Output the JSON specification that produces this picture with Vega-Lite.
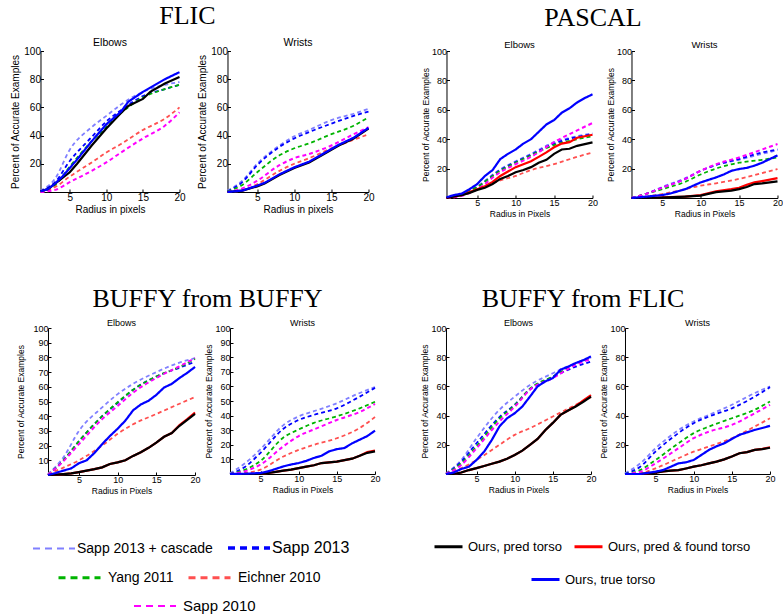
{
"$schema": "https://vega.github.io/schema/vega-lite/v6.json",
"padding": {"left": 10, "top": 3, "right": 0, "bottom": 0},
"background": "white",
"config": {
 "view": {"stroke": null},
 "title": {"font": "Liberation Sans", "fontWeight": "normal", "color": "#000000", "fontSize": 10, "offset": 0, "frame": "group"},
 "axis": {"grid": false, "domainColor": "#000000", "domainWidth": 1, "tickColor": "#000000", "tickSize": -3, "labelColor": "#000000", "titleColor": "#000000", "labelFont": "Liberation Sans", "titleFont": "Liberation Sans", "titleFontWeight": "normal", "labelFlush": false, "labelOverlap": false, "labelPadding": 3},
 "axisX": {"titlePadding": 2},
 "axisY": {"titlePadding": 3},
 "legend": {"labelFont": "Liberation Sans", "labelColor": "#000000", "padding": 0, "symbolType": "stroke", "labelLimit": 0}
},
"datasets": {
"fe": [
{"s":"casc","x":1,"y":1},{"s":"casc","x":3,"y":9.5},{"s":"casc","x":5,"y":30},{"s":"casc","x":8,"y":46},{"s":"casc","x":10,"y":54},{"s":"casc","x":12,"y":62},{"s":"casc","x":15,"y":71},{"s":"casc","x":18,"y":76},{"s":"casc","x":20,"y":78},
{"s":"s13","x":1,"y":0.5},{"s":"s13","x":3,"y":7},{"s":"s13","x":5,"y":22},{"s":"s13","x":8,"y":39},{"s":"s13","x":10,"y":50},{"s":"s13","x":12,"y":58},{"s":"s13","x":15,"y":68},{"s":"s13","x":18,"y":73},{"s":"s13","x":20,"y":76},
{"s":"yang","x":1,"y":0.5},{"s":"yang","x":3,"y":5},{"s":"yang","x":5,"y":18},{"s":"yang","x":8,"y":36},{"s":"yang","x":10,"y":46},{"s":"yang","x":12,"y":56},{"s":"yang","x":15,"y":67},{"s":"yang","x":18,"y":73},{"s":"yang","x":20,"y":76},
{"s":"eich","x":1,"y":0},{"s":"eich","x":3,"y":3.5},{"s":"eich","x":5,"y":11},{"s":"eich","x":8,"y":21},{"s":"eich","x":10,"y":28},{"s":"eich","x":12,"y":34},{"s":"eich","x":15,"y":44},{"s":"eich","x":18,"y":52},{"s":"eich","x":20,"y":60},
{"s":"s10","x":1,"y":0},{"s":"s10","x":3,"y":1.5},{"s":"s10","x":5,"y":7},{"s":"s10","x":8,"y":15},{"s":"s10","x":10,"y":21},{"s":"s10","x":12,"y":28},{"s":"s10","x":15,"y":38},{"s":"s10","x":18,"y":47},{"s":"s10","x":20,"y":56.5},
{"s":"pred","x":1,"y":0.5},{"s":"pred","x":2,"y":2},{"s":"pred","x":3,"y":6},{"s":"pred","x":4,"y":10},{"s":"pred","x":5,"y":14},{"s":"pred","x":6,"y":20},{"s":"pred","x":8,"y":33},{"s":"pred","x":10,"y":45},{"s":"pred","x":12,"y":56},{"s":"pred","x":13,"y":61},{"s":"pred","x":15,"y":66},{"s":"pred","x":16,"y":71},{"s":"pred","x":18,"y":77},{"s":"pred","x":20,"y":81.5},
{"s":"gt","x":1,"y":0.5},{"s":"gt","x":2,"y":2},{"s":"gt","x":3,"y":6},{"s":"gt","x":4,"y":11},{"s":"gt","x":5,"y":17},{"s":"gt","x":6,"y":23},{"s":"gt","x":8,"y":36},{"s":"gt","x":10,"y":48},{"s":"gt","x":12,"y":57},{"s":"gt","x":13,"y":64},{"s":"gt","x":15,"y":71},{"s":"gt","x":16,"y":74},{"s":"gt","x":18,"y":80},{"s":"gt","x":20,"y":85}
],
"fw": [
{"s":"casc","x":1,"y":1},{"s":"casc","x":3,"y":8},{"s":"casc","x":5,"y":20},{"s":"casc","x":8,"y":33},{"s":"casc","x":10,"y":39.5},{"s":"casc","x":12,"y":44},{"s":"casc","x":15,"y":51},{"s":"casc","x":18,"y":55.5},{"s":"casc","x":20,"y":59},
{"s":"s13","x":1,"y":0.5},{"s":"s13","x":3,"y":7},{"s":"s13","x":5,"y":19},{"s":"s13","x":8,"y":32},{"s":"s13","x":10,"y":38},{"s":"s13","x":12,"y":42.5},{"s":"s13","x":15,"y":48.5},{"s":"s13","x":18,"y":54},{"s":"s13","x":20,"y":57},
{"s":"yang","x":1,"y":0.5},{"s":"yang","x":3,"y":5},{"s":"yang","x":5,"y":14},{"s":"yang","x":8,"y":26},{"s":"yang","x":10,"y":31},{"s":"yang","x":12,"y":34.5},{"s":"yang","x":15,"y":41},{"s":"yang","x":18,"y":47},{"s":"yang","x":20,"y":53},
{"s":"eich","x":1,"y":0},{"s":"eich","x":3,"y":1},{"s":"eich","x":5,"y":5.5},{"s":"eich","x":8,"y":15},{"s":"eich","x":10,"y":20},{"s":"eich","x":12,"y":24},{"s":"eich","x":15,"y":31},{"s":"eich","x":18,"y":37},{"s":"eich","x":20,"y":41},
{"s":"s10","x":1,"y":0},{"s":"s10","x":3,"y":2.5},{"s":"s10","x":5,"y":8},{"s":"s10","x":8,"y":19},{"s":"s10","x":10,"y":24},{"s":"s10","x":12,"y":27},{"s":"s10","x":15,"y":33},{"s":"s10","x":18,"y":41},{"s":"s10","x":20,"y":46},
{"s":"pred","x":1,"y":0},{"s":"pred","x":3,"y":1},{"s":"pred","x":5,"y":4},{"s":"pred","x":6,"y":6},{"s":"pred","x":8,"y":12},{"s":"pred","x":10,"y":17},{"s":"pred","x":12,"y":21},{"s":"pred","x":14,"y":27},{"s":"pred","x":15,"y":30},{"s":"pred","x":16,"y":33},{"s":"pred","x":18,"y":38},{"s":"pred","x":20,"y":45},
{"s":"gt","x":1,"y":0},{"s":"gt","x":3,"y":1},{"s":"gt","x":5,"y":4.5},{"s":"gt","x":6,"y":6.5},{"s":"gt","x":8,"y":12.5},{"s":"gt","x":10,"y":17.5},{"s":"gt","x":12,"y":21.5},{"s":"gt","x":14,"y":27.5},{"s":"gt","x":15,"y":30.5},{"s":"gt","x":16,"y":33.5},{"s":"gt","x":18,"y":38.5},{"s":"gt","x":20,"y":45.5}
],
"pe": [
{"s":"casc","x":1,"y":0},{"s":"casc","x":3,"y":3},{"s":"casc","x":5,"y":8},{"s":"casc","x":8,"y":19.5},{"s":"casc","x":10,"y":25},{"s":"casc","x":12,"y":30},{"s":"casc","x":15,"y":38},{"s":"casc","x":18,"y":42},{"s":"casc","x":20,"y":44},
{"s":"s13","x":1,"y":0},{"s":"s13","x":3,"y":2.5},{"s":"s13","x":5,"y":7.5},{"s":"s13","x":8,"y":19},{"s":"s13","x":10,"y":24.5},{"s":"s13","x":12,"y":29.5},{"s":"s13","x":15,"y":37},{"s":"s13","x":18,"y":41.5},{"s":"s13","x":20,"y":43.5},
{"s":"yang","x":1,"y":0},{"s":"yang","x":3,"y":2.5},{"s":"yang","x":5,"y":7.5},{"s":"yang","x":8,"y":18.5},{"s":"yang","x":10,"y":24},{"s":"yang","x":12,"y":29},{"s":"yang","x":15,"y":36},{"s":"yang","x":18,"y":40},{"s":"yang","x":20,"y":42},
{"s":"eich","x":1,"y":0},{"s":"eich","x":3,"y":2},{"s":"eich","x":5,"y":6},{"s":"eich","x":8,"y":12},{"s":"eich","x":10,"y":15},{"s":"eich","x":12,"y":19},{"s":"eich","x":15,"y":23},{"s":"eich","x":18,"y":28},{"s":"eich","x":20,"y":31},
{"s":"s10","x":1,"y":0},{"s":"s10","x":3,"y":1.5},{"s":"s10","x":5,"y":6},{"s":"s10","x":8,"y":17.5},{"s":"s10","x":10,"y":23},{"s":"s10","x":12,"y":28},{"s":"s10","x":15,"y":38},{"s":"s10","x":18,"y":46},{"s":"s10","x":20,"y":51},
{"s":"found","x":1,"y":0},{"s":"found","x":2,"y":1},{"s":"found","x":3,"y":2},{"s":"found","x":4,"y":4},{"s":"found","x":5,"y":6},{"s":"found","x":6,"y":8},{"s":"found","x":7,"y":11},{"s":"found","x":8,"y":15},{"s":"found","x":9,"y":18},{"s":"found","x":10,"y":21},{"s":"found","x":11,"y":23},{"s":"found","x":12,"y":25},{"s":"found","x":13,"y":28},{"s":"found","x":14,"y":31},{"s":"found","x":15,"y":34.5},{"s":"found","x":16,"y":37},{"s":"found","x":17,"y":38},{"s":"found","x":18,"y":41},{"s":"found","x":20,"y":43},
{"s":"pred","x":1,"y":0},{"s":"pred","x":2,"y":1},{"s":"pred","x":3,"y":2},{"s":"pred","x":4,"y":3.5},{"s":"pred","x":5,"y":5.5},{"s":"pred","x":6,"y":7},{"s":"pred","x":7,"y":9.5},{"s":"pred","x":8,"y":13},{"s":"pred","x":9,"y":15},{"s":"pred","x":10,"y":17.5},{"s":"pred","x":11,"y":19},{"s":"pred","x":12,"y":21},{"s":"pred","x":13,"y":24},{"s":"pred","x":14,"y":26},{"s":"pred","x":15,"y":30},{"s":"pred","x":16,"y":33},{"s":"pred","x":17,"y":33.5},{"s":"pred","x":18,"y":35.5},{"s":"pred","x":20,"y":37.8},
{"s":"gt","x":1,"y":0.5},{"s":"gt","x":2,"y":2},{"s":"gt","x":3,"y":3},{"s":"gt","x":4,"y":6},{"s":"gt","x":5,"y":9.5},{"s":"gt","x":6,"y":15},{"s":"gt","x":7,"y":19},{"s":"gt","x":8,"y":26.5},{"s":"gt","x":9,"y":30},{"s":"gt","x":10,"y":33},{"s":"gt","x":11,"y":37},{"s":"gt","x":12,"y":40},{"s":"gt","x":13,"y":45},{"s":"gt","x":14,"y":50},{"s":"gt","x":15,"y":53},{"s":"gt","x":16,"y":58},{"s":"gt","x":17,"y":61},{"s":"gt","x":18,"y":65},{"s":"gt","x":19,"y":68},{"s":"gt","x":20,"y":70.5}
],
"pw": [
{"s":"casc","x":1,"y":0},{"s":"casc","x":3,"y":3},{"s":"casc","x":5,"y":7.5},{"s":"casc","x":8,"y":13.5},{"s":"casc","x":10,"y":18.5},{"s":"casc","x":12,"y":22.5},{"s":"casc","x":15,"y":26},{"s":"casc","x":18,"y":30},{"s":"casc","x":20,"y":32.5},
{"s":"s13","x":1,"y":0},{"s":"s13","x":3,"y":3},{"s":"s13","x":5,"y":7},{"s":"s13","x":8,"y":13},{"s":"s13","x":10,"y":18.5},{"s":"s13","x":12,"y":22.5},{"s":"s13","x":15,"y":26.5},{"s":"s13","x":18,"y":31},{"s":"s13","x":20,"y":33},
{"s":"yang","x":1,"y":0},{"s":"yang","x":3,"y":3},{"s":"yang","x":5,"y":6},{"s":"yang","x":8,"y":11},{"s":"yang","x":10,"y":16},{"s":"yang","x":12,"y":20},{"s":"yang","x":15,"y":24},{"s":"yang","x":18,"y":26},{"s":"yang","x":20,"y":27.6},
{"s":"eich","x":1,"y":0},{"s":"eich","x":3,"y":1},{"s":"eich","x":5,"y":2.7},{"s":"eich","x":8,"y":6},{"s":"eich","x":10,"y":8.4},{"s":"eich","x":12,"y":10},{"s":"eich","x":15,"y":13},{"s":"eich","x":18,"y":17},{"s":"eich","x":20,"y":19.7},
{"s":"s10","x":1,"y":0},{"s":"s10","x":3,"y":3},{"s":"s10","x":5,"y":7},{"s":"s10","x":8,"y":13},{"s":"s10","x":10,"y":18.5},{"s":"s10","x":12,"y":23},{"s":"s10","x":15,"y":27.6},{"s":"s10","x":18,"y":33},{"s":"s10","x":20,"y":36.7},
{"s":"found","x":1,"y":0},{"s":"found","x":3,"y":0},{"s":"found","x":5,"y":0.5},{"s":"found","x":8,"y":1},{"s":"found","x":10,"y":2},{"s":"found","x":12,"y":4.5},{"s":"found","x":14,"y":6},{"s":"found","x":15,"y":7},{"s":"found","x":16,"y":9},{"s":"found","x":17,"y":10.6},{"s":"found","x":18,"y":11.5},{"s":"found","x":20,"y":13.5},
{"s":"pred","x":1,"y":0},{"s":"pred","x":3,"y":0},{"s":"pred","x":5,"y":0.3},{"s":"pred","x":8,"y":1},{"s":"pred","x":10,"y":1.6},{"s":"pred","x":12,"y":4},{"s":"pred","x":14,"y":5},{"s":"pred","x":15,"y":6},{"s":"pred","x":16,"y":7.5},{"s":"pred","x":17,"y":9.5},{"s":"pred","x":18,"y":10},{"s":"pred","x":20,"y":11.3},
{"s":"gt","x":1,"y":0},{"s":"gt","x":3,"y":1},{"s":"gt","x":5,"y":2},{"s":"gt","x":6,"y":3},{"s":"gt","x":8,"y":6},{"s":"gt","x":10,"y":10.6},{"s":"gt","x":12,"y":14},{"s":"gt","x":13,"y":16},{"s":"gt","x":14,"y":18.5},{"s":"gt","x":15,"y":19.7},{"s":"gt","x":16,"y":20.5},{"s":"gt","x":17,"y":22},{"s":"gt","x":18,"y":24},{"s":"gt","x":20,"y":29}
],
"be": [
{"s":"casc","x":1,"y":0.7},{"s":"casc","x":3,"y":12},{"s":"casc","x":5,"y":30},{"s":"casc","x":8,"y":46},{"s":"casc","x":10,"y":55},{"s":"casc","x":12,"y":62},{"s":"casc","x":15,"y":70},{"s":"casc","x":18,"y":76.5},{"s":"casc","x":20,"y":79.5},
{"s":"s13","x":1,"y":0},{"s":"s13","x":3,"y":10},{"s":"s13","x":5,"y":23},{"s":"s13","x":8,"y":40},{"s":"s13","x":10,"y":49},{"s":"s13","x":12,"y":58},{"s":"s13","x":15,"y":67},{"s":"s13","x":18,"y":73},{"s":"s13","x":20,"y":77},
{"s":"yang","x":1,"y":0},{"s":"yang","x":3,"y":10},{"s":"yang","x":5,"y":23},{"s":"yang","x":8,"y":40},{"s":"yang","x":10,"y":49.5},{"s":"yang","x":12,"y":58},{"s":"yang","x":15,"y":67},{"s":"yang","x":18,"y":73.5},{"s":"yang","x":20,"y":79},
{"s":"eich","x":1,"y":0.7},{"s":"eich","x":3,"y":5},{"s":"eich","x":5,"y":10},{"s":"eich","x":8,"y":20},{"s":"eich","x":10,"y":28},{"s":"eich","x":12,"y":34.5},{"s":"eich","x":15,"y":41.5},{"s":"eich","x":18,"y":48.5},{"s":"eich","x":20,"y":53},
{"s":"s10","x":1,"y":0},{"s":"s10","x":3,"y":9.5},{"s":"s10","x":5,"y":21},{"s":"s10","x":8,"y":38},{"s":"s10","x":10,"y":47},{"s":"s10","x":12,"y":56},{"s":"s10","x":15,"y":66},{"s":"s10","x":18,"y":74},{"s":"s10","x":20,"y":79.5},
{"s":"found","x":1,"y":0},{"s":"found","x":2,"y":0.2},{"s":"found","x":3,"y":0.6},{"s":"found","x":4,"y":1.1},{"s":"found","x":5,"y":2},{"s":"found","x":6,"y":3},{"s":"found","x":7,"y":4},{"s":"found","x":8,"y":5.2},{"s":"found","x":9,"y":7.5},{"s":"found","x":10,"y":8.6},{"s":"found","x":11,"y":10},{"s":"found","x":12,"y":13},{"s":"found","x":13,"y":15.5},{"s":"found","x":14,"y":18.5},{"s":"found","x":15,"y":22},{"s":"found","x":16,"y":26},{"s":"found","x":17,"y":28.5},{"s":"found","x":18,"y":34},{"s":"found","x":19,"y":38},{"s":"found","x":20,"y":42.5},
{"s":"pred","x":1,"y":0},{"s":"pred","x":2,"y":0.2},{"s":"pred","x":3,"y":0.6},{"s":"pred","x":4,"y":1.1},{"s":"pred","x":5,"y":2},{"s":"pred","x":6,"y":3},{"s":"pred","x":7,"y":4},{"s":"pred","x":8,"y":5.2},{"s":"pred","x":9,"y":7.5},{"s":"pred","x":10,"y":8.6},{"s":"pred","x":11,"y":10},{"s":"pred","x":12,"y":13},{"s":"pred","x":13,"y":15.5},{"s":"pred","x":14,"y":18.5},{"s":"pred","x":15,"y":22},{"s":"pred","x":16,"y":26},{"s":"pred","x":17,"y":28.5},{"s":"pred","x":18,"y":33.5},{"s":"pred","x":19,"y":37.5},{"s":"pred","x":20,"y":41.5},
{"s":"gt","x":1,"y":0},{"s":"gt","x":2,"y":1.4},{"s":"gt","x":3,"y":3},{"s":"gt","x":4,"y":4.5},{"s":"gt","x":5,"y":8},{"s":"gt","x":6,"y":10},{"s":"gt","x":7,"y":15},{"s":"gt","x":8,"y":21},{"s":"gt","x":9,"y":26.5},{"s":"gt","x":10,"y":31.5},{"s":"gt","x":11,"y":37},{"s":"gt","x":12,"y":44},{"s":"gt","x":13,"y":48},{"s":"gt","x":14,"y":50.5},{"s":"gt","x":15,"y":54.5},{"s":"gt","x":16,"y":59.5},{"s":"gt","x":17,"y":62},{"s":"gt","x":18,"y":66},{"s":"gt","x":19,"y":69.5},{"s":"gt","x":20,"y":73.5}
],
"bw": [
{"s":"casc","x":1,"y":0.5},{"s":"casc","x":3,"y":7.5},{"s":"casc","x":5,"y":17},{"s":"casc","x":8,"y":33.5},{"s":"casc","x":10,"y":39.5},{"s":"casc","x":12,"y":43},{"s":"casc","x":15,"y":48.5},{"s":"casc","x":18,"y":55.5},{"s":"casc","x":20,"y":59.5},
{"s":"s13","x":1,"y":0},{"s":"s13","x":3,"y":5},{"s":"s13","x":5,"y":14.5},{"s":"s13","x":8,"y":31},{"s":"s13","x":10,"y":37},{"s":"s13","x":12,"y":40.5},{"s":"s13","x":15,"y":45},{"s":"s13","x":18,"y":53},{"s":"s13","x":20,"y":59},
{"s":"yang","x":1,"y":0},{"s":"yang","x":3,"y":3},{"s":"yang","x":5,"y":9},{"s":"yang","x":8,"y":25},{"s":"yang","x":10,"y":30.5},{"s":"yang","x":12,"y":35},{"s":"yang","x":15,"y":39.5},{"s":"yang","x":18,"y":45},{"s":"yang","x":20,"y":49.5},
{"s":"eich","x":1,"y":0},{"s":"eich","x":3,"y":0.7},{"s":"eich","x":5,"y":3},{"s":"eich","x":8,"y":12},{"s":"eich","x":10,"y":16.5},{"s":"eich","x":12,"y":20},{"s":"eich","x":15,"y":24.5},{"s":"eich","x":18,"y":31.5},{"s":"eich","x":20,"y":39},
{"s":"s10","x":1,"y":0},{"s":"s10","x":3,"y":2},{"s":"s10","x":5,"y":6.5},{"s":"s10","x":8,"y":19},{"s":"s10","x":10,"y":26},{"s":"s10","x":12,"y":30.5},{"s":"s10","x":15,"y":37},{"s":"s10","x":18,"y":42.5},{"s":"s10","x":20,"y":48},
{"s":"found","x":1,"y":0},{"s":"found","x":5,"y":0},{"s":"found","x":6,"y":0.7},{"s":"found","x":7,"y":1.5},{"s":"found","x":8,"y":2.3},{"s":"found","x":9,"y":3},{"s":"found","x":10,"y":4},{"s":"found","x":11,"y":5},{"s":"found","x":12,"y":6},{"s":"found","x":13,"y":7.5},{"s":"found","x":14,"y":8},{"s":"found","x":15,"y":8.5},{"s":"found","x":16,"y":9.5},{"s":"found","x":17,"y":10.5},{"s":"found","x":18,"y":12.5},{"s":"found","x":19,"y":15},{"s":"found","x":20,"y":16},
{"s":"pred","x":1,"y":0},{"s":"pred","x":5,"y":0},{"s":"pred","x":6,"y":0.7},{"s":"pred","x":7,"y":1.5},{"s":"pred","x":8,"y":2.3},{"s":"pred","x":9,"y":3},{"s":"pred","x":10,"y":4},{"s":"pred","x":11,"y":5},{"s":"pred","x":12,"y":6},{"s":"pred","x":13,"y":7.5},{"s":"pred","x":14,"y":8},{"s":"pred","x":15,"y":8.5},{"s":"pred","x":16,"y":9.5},{"s":"pred","x":17,"y":10.5},{"s":"pred","x":18,"y":12.5},{"s":"pred","x":19,"y":14.5},{"s":"pred","x":20,"y":15.5},
{"s":"gt","x":1,"y":0},{"s":"gt","x":3,"y":0.2},{"s":"gt","x":5,"y":0.7},{"s":"gt","x":6,"y":1.8},{"s":"gt","x":7,"y":3.5},{"s":"gt","x":8,"y":5.2},{"s":"gt","x":9,"y":6.5},{"s":"gt","x":10,"y":7.5},{"s":"gt","x":11,"y":9},{"s":"gt","x":12,"y":11},{"s":"gt","x":13,"y":12.5},{"s":"gt","x":14,"y":15.5},{"s":"gt","x":15,"y":17},{"s":"gt","x":16,"y":17.8},{"s":"gt","x":17,"y":21},{"s":"gt","x":18,"y":23.5},{"s":"gt","x":19,"y":26},{"s":"gt","x":20,"y":29.7}
],
"ce": [
{"s":"casc","x":1,"y":0.5},{"s":"casc","x":3,"y":9.6},{"s":"casc","x":5,"y":24.5},{"s":"casc","x":8,"y":44},{"s":"casc","x":10,"y":53},{"s":"casc","x":12,"y":61},{"s":"casc","x":15,"y":69},{"s":"casc","x":18,"y":76},{"s":"casc","x":20,"y":79.4},
{"s":"s13","x":1,"y":0},{"s":"s13","x":3,"y":8.5},{"s":"s13","x":5,"y":21},{"s":"s13","x":8,"y":39},{"s":"s13","x":10,"y":47.5},{"s":"s13","x":12,"y":58},{"s":"s13","x":15,"y":66.5},{"s":"s13","x":18,"y":73.5},{"s":"s13","x":20,"y":77},
{"s":"yang","x":1,"y":0},{"s":"yang","x":3,"y":7.3},{"s":"yang","x":5,"y":19},{"s":"yang","x":8,"y":38},{"s":"yang","x":10,"y":47},{"s":"yang","x":12,"y":58.5},{"s":"yang","x":15,"y":66.8},{"s":"yang","x":18,"y":75.5},{"s":"yang","x":20,"y":79.4},
{"s":"eich","x":1,"y":0.5},{"s":"eich","x":3,"y":4},{"s":"eich","x":5,"y":9.6},{"s":"eich","x":8,"y":20},{"s":"eich","x":10,"y":26.8},{"s":"eich","x":12,"y":31.4},{"s":"eich","x":15,"y":39.4},{"s":"eich","x":18,"y":47.4},{"s":"eich","x":20,"y":52.6},
{"s":"s10","x":1,"y":0},{"s":"s10","x":3,"y":6.2},{"s":"s10","x":5,"y":17.6},{"s":"s10","x":8,"y":36},{"s":"s10","x":10,"y":46},{"s":"s10","x":12,"y":57.7},{"s":"s10","x":15,"y":65.7},{"s":"s10","x":18,"y":74.8},{"s":"s10","x":20,"y":78.7},
{"s":"found","x":1,"y":0},{"s":"found","x":2,"y":0},{"s":"found","x":3,"y":1},{"s":"found","x":4,"y":2.7},{"s":"found","x":5,"y":4},{"s":"found","x":6,"y":5.5},{"s":"found","x":7,"y":7},{"s":"found","x":8,"y":8.5},{"s":"found","x":9,"y":10.5},{"s":"found","x":10,"y":13},{"s":"found","x":11,"y":16},{"s":"found","x":12,"y":20},{"s":"found","x":13,"y":24},{"s":"found","x":14,"y":30},{"s":"found","x":15,"y":35},{"s":"found","x":16,"y":40.5},{"s":"found","x":17,"y":43.5},{"s":"found","x":18,"y":46.5},{"s":"found","x":19,"y":50.5},{"s":"found","x":20,"y":54},
{"s":"pred","x":1,"y":0},{"s":"pred","x":2,"y":0},{"s":"pred","x":3,"y":1},{"s":"pred","x":4,"y":2.7},{"s":"pred","x":5,"y":4},{"s":"pred","x":6,"y":5.5},{"s":"pred","x":7,"y":7},{"s":"pred","x":8,"y":8.5},{"s":"pred","x":9,"y":10.5},{"s":"pred","x":10,"y":13},{"s":"pred","x":11,"y":16},{"s":"pred","x":12,"y":20},{"s":"pred","x":13,"y":24},{"s":"pred","x":14,"y":30},{"s":"pred","x":15,"y":35},{"s":"pred","x":16,"y":40.5},{"s":"pred","x":17,"y":43.5},{"s":"pred","x":18,"y":46.2},{"s":"pred","x":19,"y":49.5},{"s":"pred","x":20,"y":53},
{"s":"gt","x":1,"y":0},{"s":"gt","x":2,"y":1},{"s":"gt","x":3,"y":3.4},{"s":"gt","x":4,"y":5},{"s":"gt","x":5,"y":9.6},{"s":"gt","x":6,"y":15.3},{"s":"gt","x":7,"y":23.3},{"s":"gt","x":8,"y":32.5},{"s":"gt","x":9,"y":38.2},{"s":"gt","x":10,"y":41.6},{"s":"gt","x":11,"y":46.2},{"s":"gt","x":12,"y":53},{"s":"gt","x":13,"y":60},{"s":"gt","x":14,"y":63.4},{"s":"gt","x":15,"y":65.7},{"s":"gt","x":16,"y":71.4},{"s":"gt","x":17,"y":73.5},{"s":"gt","x":18,"y":76},{"s":"gt","x":19,"y":78},{"s":"gt","x":20,"y":80.5}
],
"cw": [
{"s":"casc","x":1,"y":0.5},{"s":"casc","x":3,"y":7.3},{"s":"casc","x":5,"y":17.6},{"s":"casc","x":8,"y":30},{"s":"casc","x":10,"y":36},{"s":"casc","x":12,"y":40.5},{"s":"casc","x":15,"y":47.4},{"s":"casc","x":18,"y":55.4},{"s":"casc","x":20,"y":60},
{"s":"s13","x":1,"y":0},{"s":"s13","x":3,"y":5},{"s":"s13","x":5,"y":15.3},{"s":"s13","x":8,"y":28},{"s":"s13","x":10,"y":34.8},{"s":"s13","x":12,"y":39.4},{"s":"s13","x":15,"y":45},{"s":"s13","x":18,"y":53},{"s":"s13","x":20,"y":59.5},
{"s":"yang","x":1,"y":0},{"s":"yang","x":3,"y":2.7},{"s":"yang","x":5,"y":9.6},{"s":"yang","x":8,"y":21},{"s":"yang","x":10,"y":28},{"s":"yang","x":12,"y":32.5},{"s":"yang","x":15,"y":38.2},{"s":"yang","x":18,"y":44},{"s":"yang","x":20,"y":49.7},
{"s":"eich","x":1,"y":0},{"s":"eich","x":3,"y":0.5},{"s":"eich","x":5,"y":3.9},{"s":"eich","x":8,"y":10.8},{"s":"eich","x":10,"y":15.3},{"s":"eich","x":12,"y":18.8},{"s":"eich","x":15,"y":24.5},{"s":"eich","x":18,"y":32.5},{"s":"eich","x":20,"y":38.2},
{"s":"s10","x":1,"y":0},{"s":"s10","x":3,"y":1.6},{"s":"s10","x":5,"y":7.3},{"s":"s10","x":8,"y":17.6},{"s":"s10","x":10,"y":24.5},{"s":"s10","x":12,"y":29},{"s":"s10","x":15,"y":33.6},{"s":"s10","x":18,"y":41.6},{"s":"s10","x":20,"y":47.4},
{"s":"found","x":1,"y":0},{"s":"found","x":3,"y":0},{"s":"found","x":5,"y":1},{"s":"found","x":6,"y":1.8},{"s":"found","x":7,"y":2.3},{"s":"found","x":8,"y":2.7},{"s":"found","x":9,"y":3.8},{"s":"found","x":10,"y":5},{"s":"found","x":11,"y":6},{"s":"found","x":12,"y":7.3},{"s":"found","x":13,"y":8.5},{"s":"found","x":14,"y":10},{"s":"found","x":15,"y":12},{"s":"found","x":16,"y":14.2},{"s":"found","x":17,"y":15},{"s":"found","x":18,"y":16.5},{"s":"found","x":19,"y":17.2},{"s":"found","x":20,"y":18.3},
{"s":"pred","x":1,"y":0},{"s":"pred","x":3,"y":0},{"s":"pred","x":5,"y":1},{"s":"pred","x":6,"y":1.8},{"s":"pred","x":7,"y":2.3},{"s":"pred","x":8,"y":2.7},{"s":"pred","x":9,"y":3.8},{"s":"pred","x":10,"y":5},{"s":"pred","x":11,"y":6},{"s":"pred","x":12,"y":7.3},{"s":"pred","x":13,"y":8.5},{"s":"pred","x":14,"y":10},{"s":"pred","x":15,"y":12},{"s":"pred","x":16,"y":14.2},{"s":"pred","x":17,"y":15},{"s":"pred","x":18,"y":16.5},{"s":"pred","x":19,"y":17},{"s":"pred","x":20,"y":18},
{"s":"gt","x":1,"y":0},{"s":"gt","x":3,"y":0},{"s":"gt","x":4,"y":0.8},{"s":"gt","x":5,"y":1.6},{"s":"gt","x":6,"y":2.7},{"s":"gt","x":7,"y":5},{"s":"gt","x":8,"y":7.3},{"s":"gt","x":9,"y":8},{"s":"gt","x":10,"y":9.6},{"s":"gt","x":11,"y":13},{"s":"gt","x":12,"y":16.5},{"s":"gt","x":13,"y":19},{"s":"gt","x":14,"y":21},{"s":"gt","x":15,"y":24},{"s":"gt","x":16,"y":26.8},{"s":"gt","x":17,"y":28.5},{"s":"gt","x":18,"y":30.2},{"s":"gt","x":19,"y":31.5},{"s":"gt","x":20,"y":33}
]
},
"vconcat": [
{"hconcat": [
 {"title": {"text": "FLIC", "font": "Liberation Serif", "fontSize": 26, "anchor": "middle", "frame": "bounds", "offset": 9, "dx": -5},
  "spacing": 12,
  "hconcat": [
  {"title": {"text": "Elbows", "fontSize": 10.5, "offset": -2.5}, "width": 139, "height": 141, "data": {"name": "fe"},
   "encoding": {
    "x": {"field": "x", "type": "quantitative", "scale": {"domain": [1, 20]}, "axis": {"title": "Radius in pixels", "values": [5, 10, 15, 20], "labelFontSize": 10, "titleFontSize": 10}},
    "y": {"field": "y", "type": "quantitative", "scale": {"domain": [0, 100]}, "axis": {"title": "Percent of Accurate Examples", "values": [20, 40, 60, 80, 100], "labelFontSize": 10, "titleFontSize": 10}}},
   "layer": [
    {"transform": [{"filter": {"field": "s", "oneOf": ["casc", "s13"]}}], "mark": {"type": "line", "strokeDash": [4, 3], "strokeWidth": 1.8, "interpolate": "monotone"},
     "encoding": {"color": {"field": "s", "type": "nominal", "scale": {"domain": ["casc", "s13"], "range": ["#8080ff", "#0000ff"]},
       "legend": {"title": null, "orient": "none", "legendX": 6, "legendY": 489, "direction": "horizontal", "symbolType": "stroke", "symbolSize": 1764, "symbolStrokeWidth": 2.5, "symbolDash": [7, 5], "labelFontSize": 14, "labelOffset": 15, "columnPadding": 8, "labelExpr": "datum.label == 'casc' ? 'Sapp 2013 + cascade' : 'Sapp 2013'",
        "encode": {"labels": {"update": {"fontSize": {"signal": "datum.value == 'casc' ? 14 : 16"}}}, "symbols": {"update": {"strokeWidth": {"signal": "datum.value == 'casc' ? 2 : 3.5"}}}}}}}},
    {"transform": [{"filter": {"field": "s", "oneOf": ["yang", "eich"]}}], "mark": {"type": "line", "color": {"expr": "(datum.s || datum.value) == 'yang' ? '#00b400' : '#ff5050'"}, "strokeDash": [4, 3], "strokeWidth": 1.8, "interpolate": "monotone"},
     "encoding": {"opacity": {"field": "s", "type": "nominal", "scale": {"domain": ["yang", "eich"], "range": [1, 1]},
       "legend": {"title": null, "orient": "none", "legendX": 17, "legendY": 504, "direction": "horizontal", "symbolType": "stroke", "symbolSize": 1764, "symbolStrokeWidth": 2.8, "symbolDash": [7, 5], "labelFontSize": 14, "labelOffset": 6, "columnPadding": 8, "labelExpr": "datum.label == 'yang' ? 'Yang 2011' : 'Eichner 2010'",
        "encode": {"labels": {"update": {"fontSize": {"signal": "datum.value == 'yang' ? 14 : 16.5"}}}}}}}},
    {"transform": [{"filter": {"field": "s", "equal": "s10"}}], "mark": {"type": "line", "color": "#ff00ff", "strokeDash": [4, 3], "interpolate": "monotone"},
     "encoding": {"strokeWidth": {"field": "s", "type": "ordinal", "scale": {"domain": ["s10"], "range": [2, 2]},
       "legend": {"title": null, "orient": "none", "legendX": 93, "legendY": 533, "symbolType": "stroke", "symbolSize": 1764, "symbolDash": [7, 5], "symbolStrokeColor": "#ff00ff", "labelFontSize": 15, "labelOffset": 6, "labelExpr": "'Sapp 2010'"}}}},
    {"transform": [{"filter": {"field": "s", "oneOf": ["found", "pred"]}}], "mark": {"type": "line", "strokeWidth": 2.2},
     "encoding": {"stroke": {"field": "s", "type": "nominal", "scale": {"domain": ["pred", "found"], "range": ["#000000", "#ff0000"]},
       "legend": {"title": null, "orient": "none", "legendX": 393, "legendY": 480, "direction": "horizontal", "symbolType": "stroke", "symbolSize": 784, "symbolStrokeWidth": 3, "labelFontSize": 13, "labelOffset": 4, "columnPadding": 6, "labelExpr": "datum.label == 'pred' ? 'Ours, pred torso' : 'Ours, pred & found torso'"}}}},
    {"transform": [{"filter": {"field": "s", "equal": "gt"}}], "mark": {"type": "line", "color": "#0000ff", "strokeWidth": 2.2},
     "encoding": {"strokeDash": {"field": "s", "type": "nominal", "scale": {"domain": ["gt"], "range": [[1, 0]]},
       "legend": {"title": null, "orient": "none", "legendX": 490, "legendY": 513, "direction": "horizontal", "symbolType": "stroke", "symbolSize": 784, "symbolStrokeWidth": 3, "symbolStrokeColor": "#0000ff", "labelFontSize": 13, "labelOffset": 4, "labelExpr": "'Ours, true torso'"}}}}
   ]},
  {"title": {"text": "Wrists", "fontSize": 10.5, "offset": -2.5}, "width": 141, "height": 141, "data": {"name": "fw"},
   "encoding": {
    "x": {"field": "x", "type": "quantitative", "scale": {"domain": [1, 20]}, "axis": {"title": "Radius in pixels", "values": [5, 10, 15, 20], "labelFontSize": 10, "titleFontSize": 10}},
    "y": {"field": "y", "type": "quantitative", "scale": {"domain": [0, 100]}, "axis": {"title": "Percent of Accurate Examples", "values": [20, 40, 60, 80, 100], "labelFontSize": 10, "titleFontSize": 10}}},
   "layer": [
    {"transform": [{"filter": {"field": "s", "oneOf": ["casc", "s13"]}}], "mark": {"type": "line", "strokeDash": [4, 3], "strokeWidth": 1.8, "interpolate": "monotone"}, "encoding": {"color": {"field": "s", "type": "nominal", "scale": {"domain": ["casc", "s13"], "range": ["#8080ff", "#0000ff"]}}}},
    {"transform": [{"filter": {"field": "s", "oneOf": ["yang", "eich"]}}], "mark": {"type": "line", "color": {"expr": "(datum.s || datum.value) == 'yang' ? '#00b400' : '#ff5050'"}, "strokeDash": [4, 3], "strokeWidth": 1.8, "interpolate": "monotone"}, "encoding": {"opacity": {"field": "s", "type": "nominal", "scale": {"domain": ["yang", "eich"], "range": [1, 1]}}}},
    {"transform": [{"filter": {"field": "s", "equal": "s10"}}], "mark": {"type": "line", "color": "#ff00ff", "strokeDash": [4, 3], "interpolate": "monotone"}, "encoding": {"strokeWidth": {"field": "s", "type": "ordinal", "scale": {"domain": ["s10"], "range": [2, 2]}}}},
    {"transform": [{"filter": {"field": "s", "oneOf": ["found", "pred"]}}], "mark": {"type": "line", "strokeWidth": 2.2}, "encoding": {"stroke": {"field": "s", "type": "nominal", "scale": {"domain": ["pred", "found"], "range": ["#000000", "#ff0000"]}}}},
    {"transform": [{"filter": {"field": "s", "equal": "gt"}}], "mark": {"type": "line", "color": "#0000ff", "strokeWidth": 2.2}, "encoding": {"strokeDash": {"field": "s", "type": "nominal", "scale": {"domain": ["gt"], "range": [[1, 0]]}}}}
   ]}
 ]},
 {"title": {"text": "PASCAL", "font": "Liberation Serif", "fontSize": 26, "anchor": "middle", "frame": "bounds", "offset": 9, "dx": -9},
  "spacing": 7,
  "hconcat": [
  {"title": {"text": "Elbows", "fontSize": 9.5, "offset": -2.5}, "width": 146, "height": 147, "data": {"name": "pe"},
   "encoding": {
    "x": {"field": "x", "type": "quantitative", "scale": {"domain": [1, 20]}, "axis": {"title": "Radius in Pixels", "values": [5, 10, 15, 20], "labelFontSize": 9, "titleFontSize": 8.5}},
    "y": {"field": "y", "type": "quantitative", "scale": {"domain": [0, 100]}, "axis": {"title": "Percent of Accurate Examples", "values": [20, 40, 60, 80, 100], "labelFontSize": 9, "titleFontSize": 8.5, "titlePadding": 1}}},
   "layer": [
    {"transform": [{"filter": {"field": "s", "oneOf": ["casc", "s13"]}}], "mark": {"type": "line", "strokeDash": [4, 3], "strokeWidth": 1.8, "interpolate": "monotone"}, "encoding": {"color": {"field": "s", "type": "nominal", "scale": {"domain": ["casc", "s13"], "range": ["#8080ff", "#0000ff"]}}}},
    {"transform": [{"filter": {"field": "s", "oneOf": ["yang", "eich"]}}], "mark": {"type": "line", "color": {"expr": "(datum.s || datum.value) == 'yang' ? '#00b400' : '#ff5050'"}, "strokeDash": [4, 3], "strokeWidth": 1.8, "interpolate": "monotone"}, "encoding": {"opacity": {"field": "s", "type": "nominal", "scale": {"domain": ["yang", "eich"], "range": [1, 1]}}}},
    {"transform": [{"filter": {"field": "s", "equal": "s10"}}], "mark": {"type": "line", "color": "#ff00ff", "strokeDash": [4, 3], "interpolate": "monotone"}, "encoding": {"strokeWidth": {"field": "s", "type": "ordinal", "scale": {"domain": ["s10"], "range": [2, 2]}}}},
    {"transform": [{"filter": {"field": "s", "oneOf": ["found", "pred"]}}], "mark": {"type": "line", "strokeWidth": 2.2}, "encoding": {"stroke": {"field": "s", "type": "nominal", "scale": {"domain": ["pred", "found"], "range": ["#000000", "#ff0000"]}}}},
    {"transform": [{"filter": {"field": "s", "equal": "gt"}}], "mark": {"type": "line", "color": "#0000ff", "strokeWidth": 2.2}, "encoding": {"strokeDash": {"field": "s", "type": "nominal", "scale": {"domain": ["gt"], "range": [[1, 0]]}}}}
   ]},
  {"title": {"text": "Wrists", "fontSize": 9.5, "offset": -2.5}, "width": 146, "height": 147, "data": {"name": "pw"},
   "encoding": {
    "x": {"field": "x", "type": "quantitative", "scale": {"domain": [1, 20]}, "axis": {"title": "Radius in Pixels", "values": [5, 10, 15, 20], "labelFontSize": 9, "titleFontSize": 8.5}},
    "y": {"field": "y", "type": "quantitative", "scale": {"domain": [0, 100]}, "axis": {"title": "Percent of Accurate Examples", "values": [20, 40, 60, 80, 100], "labelFontSize": 9, "titleFontSize": 8.5, "titlePadding": 1}}},
   "layer": [
    {"transform": [{"filter": {"field": "s", "oneOf": ["casc", "s13"]}}], "mark": {"type": "line", "strokeDash": [4, 3], "strokeWidth": 1.8, "interpolate": "monotone"}, "encoding": {"color": {"field": "s", "type": "nominal", "scale": {"domain": ["casc", "s13"], "range": ["#8080ff", "#0000ff"]}}}},
    {"transform": [{"filter": {"field": "s", "oneOf": ["yang", "eich"]}}], "mark": {"type": "line", "color": {"expr": "(datum.s || datum.value) == 'yang' ? '#00b400' : '#ff5050'"}, "strokeDash": [4, 3], "strokeWidth": 1.8, "interpolate": "monotone"}, "encoding": {"opacity": {"field": "s", "type": "nominal", "scale": {"domain": ["yang", "eich"], "range": [1, 1]}}}},
    {"transform": [{"filter": {"field": "s", "equal": "s10"}}], "mark": {"type": "line", "color": "#ff00ff", "strokeDash": [4, 3], "interpolate": "monotone"}, "encoding": {"strokeWidth": {"field": "s", "type": "ordinal", "scale": {"domain": ["s10"], "range": [2, 2]}}}},
    {"transform": [{"filter": {"field": "s", "oneOf": ["found", "pred"]}}], "mark": {"type": "line", "strokeWidth": 2.2}, "encoding": {"stroke": {"field": "s", "type": "nominal", "scale": {"domain": ["pred", "found"], "range": ["#000000", "#ff0000"]}}}},
    {"transform": [{"filter": {"field": "s", "equal": "gt"}}], "mark": {"type": "line", "color": "#0000ff", "strokeWidth": 2.2}, "encoding": {"strokeDash": {"field": "s", "type": "nominal", "scale": {"domain": ["gt"], "range": [[1, 0]]}}}}
   ]}
 ]}
], "spacing": 46},
{"hconcat": [
 {"title": {"text": "BUFFY from BUFFY", "font": "Liberation Serif", "fontSize": 26, "anchor": "middle", "frame": "bounds", "offset": 7, "dx": 9},
  "spacing": 3,
  "hconcat": [
  {"title": {"text": "Elbows", "fontSize": 9, "offset": -4}, "width": 147, "height": 147, "data": {"name": "be"},
   "encoding": {
    "x": {"field": "x", "type": "quantitative", "scale": {"domain": [1, 20]}, "axis": {"title": "Radius in Pixels", "values": [5, 10, 15, 20], "labelFontSize": 9, "titleFontSize": 8.5}},
    "y": {"field": "y", "type": "quantitative", "scale": {"domain": [0, 100]}, "axis": {"title": "Percent of Accurate Examples", "values": [10, 20, 30, 40, 50, 60, 70, 80, 90, 100], "labelFontSize": 9, "titleFontSize": 8.5, "titlePadding": 7}}},
   "layer": [
    {"transform": [{"filter": {"field": "s", "oneOf": ["casc", "s13"]}}], "mark": {"type": "line", "strokeDash": [4, 3], "strokeWidth": 1.8, "interpolate": "monotone"}, "encoding": {"color": {"field": "s", "type": "nominal", "scale": {"domain": ["casc", "s13"], "range": ["#8080ff", "#0000ff"]}}}},
    {"transform": [{"filter": {"field": "s", "oneOf": ["yang", "eich"]}}], "mark": {"type": "line", "color": {"expr": "(datum.s || datum.value) == 'yang' ? '#00b400' : '#ff5050'"}, "strokeDash": [4, 3], "strokeWidth": 1.8, "interpolate": "monotone"}, "encoding": {"opacity": {"field": "s", "type": "nominal", "scale": {"domain": ["yang", "eich"], "range": [1, 1]}}}},
    {"transform": [{"filter": {"field": "s", "equal": "s10"}}], "mark": {"type": "line", "color": "#ff00ff", "strokeDash": [4, 3], "interpolate": "monotone"}, "encoding": {"strokeWidth": {"field": "s", "type": "ordinal", "scale": {"domain": ["s10"], "range": [2, 2]}}}},
    {"transform": [{"filter": {"field": "s", "oneOf": ["found", "pred"]}}], "mark": {"type": "line", "strokeWidth": 2.2}, "encoding": {"stroke": {"field": "s", "type": "nominal", "scale": {"domain": ["pred", "found"], "range": ["#000000", "#ff0000"]}}}},
    {"transform": [{"filter": {"field": "s", "equal": "gt"}}], "mark": {"type": "line", "color": "#0000ff", "strokeWidth": 2.2}, "encoding": {"strokeDash": {"field": "s", "type": "nominal", "scale": {"domain": ["gt"], "range": [[1, 0]]}}}}
   ]},
  {"title": {"text": "Wrists", "fontSize": 9, "offset": -4}, "width": 145, "height": 146, "data": {"name": "bw"},
   "encoding": {
    "x": {"field": "x", "type": "quantitative", "scale": {"domain": [1, 20]}, "axis": {"title": "Radius in Pixels", "values": [5, 10, 15, 20], "labelFontSize": 9, "titleFontSize": 8.5}},
    "y": {"field": "y", "type": "quantitative", "scale": {"domain": [0, 100]}, "axis": {"title": "Percent of Accurate Examples", "values": [10, 20, 30, 40, 50, 60, 70, 80, 90, 100], "labelFontSize": 9, "titleFontSize": 8.5, "titlePadding": 1}}},
   "layer": [
    {"transform": [{"filter": {"field": "s", "oneOf": ["casc", "s13"]}}], "mark": {"type": "line", "strokeDash": [4, 3], "strokeWidth": 1.8, "interpolate": "monotone"}, "encoding": {"color": {"field": "s", "type": "nominal", "scale": {"domain": ["casc", "s13"], "range": ["#8080ff", "#0000ff"]}}}},
    {"transform": [{"filter": {"field": "s", "oneOf": ["yang", "eich"]}}], "mark": {"type": "line", "color": {"expr": "(datum.s || datum.value) == 'yang' ? '#00b400' : '#ff5050'"}, "strokeDash": [4, 3], "strokeWidth": 1.8, "interpolate": "monotone"}, "encoding": {"opacity": {"field": "s", "type": "nominal", "scale": {"domain": ["yang", "eich"], "range": [1, 1]}}}},
    {"transform": [{"filter": {"field": "s", "equal": "s10"}}], "mark": {"type": "line", "color": "#ff00ff", "strokeDash": [4, 3], "interpolate": "monotone"}, "encoding": {"strokeWidth": {"field": "s", "type": "ordinal", "scale": {"domain": ["s10"], "range": [2, 2]}}}},
    {"transform": [{"filter": {"field": "s", "oneOf": ["found", "pred"]}}], "mark": {"type": "line", "strokeWidth": 2.2}, "encoding": {"stroke": {"field": "s", "type": "nominal", "scale": {"domain": ["pred", "found"], "range": ["#000000", "#ff0000"]}}}},
    {"transform": [{"filter": {"field": "s", "equal": "gt"}}], "mark": {"type": "line", "color": "#0000ff", "strokeWidth": 2.2}, "encoding": {"strokeDash": {"field": "s", "type": "nominal", "scale": {"domain": ["gt"], "range": [[1, 0]]}}}}
   ]}
 ]},
 {"title": {"text": "BUFFY from FLIC", "font": "Liberation Serif", "fontSize": 26, "anchor": "middle", "frame": "bounds", "offset": 7, "dx": -15},
  "spacing": 2,
  "hconcat": [
  {"title": {"text": "Elbows", "fontSize": 9, "offset": -4}, "width": 145, "height": 146, "data": {"name": "ce"},
   "encoding": {
    "x": {"field": "x", "type": "quantitative", "scale": {"domain": [1, 20]}, "axis": {"title": "Radius in Pixels", "values": [5, 10, 15, 20], "labelFontSize": 9, "titleFontSize": 8.5}},
    "y": {"field": "y", "type": "quantitative", "scale": {"domain": [0, 100]}, "axis": {"title": "Percent of Accurate Examples", "values": [20, 40, 60, 80, 100], "labelFontSize": 9, "titleFontSize": 8.5, "titlePadding": 1}}},
   "layer": [
    {"transform": [{"filter": {"field": "s", "oneOf": ["casc", "s13"]}}], "mark": {"type": "line", "strokeDash": [4, 3], "strokeWidth": 1.8, "interpolate": "monotone"}, "encoding": {"color": {"field": "s", "type": "nominal", "scale": {"domain": ["casc", "s13"], "range": ["#8080ff", "#0000ff"]}}}},
    {"transform": [{"filter": {"field": "s", "oneOf": ["yang", "eich"]}}], "mark": {"type": "line", "color": {"expr": "(datum.s || datum.value) == 'yang' ? '#00b400' : '#ff5050'"}, "strokeDash": [4, 3], "strokeWidth": 1.8, "interpolate": "monotone"}, "encoding": {"opacity": {"field": "s", "type": "nominal", "scale": {"domain": ["yang", "eich"], "range": [1, 1]}}}},
    {"transform": [{"filter": {"field": "s", "equal": "s10"}}], "mark": {"type": "line", "color": "#ff00ff", "strokeDash": [4, 3], "interpolate": "monotone"}, "encoding": {"strokeWidth": {"field": "s", "type": "ordinal", "scale": {"domain": ["s10"], "range": [2, 2]}}}},
    {"transform": [{"filter": {"field": "s", "oneOf": ["found", "pred"]}}], "mark": {"type": "line", "strokeWidth": 2.2}, "encoding": {"stroke": {"field": "s", "type": "nominal", "scale": {"domain": ["pred", "found"], "range": ["#000000", "#ff0000"]}}}},
    {"transform": [{"filter": {"field": "s", "equal": "gt"}}], "mark": {"type": "line", "color": "#0000ff", "strokeWidth": 2.2}, "encoding": {"strokeDash": {"field": "s", "type": "nominal", "scale": {"domain": ["gt"], "range": [[1, 0]]}}}}
   ]},
  {"title": {"text": "Wrists", "fontSize": 9, "offset": -4}, "width": 145, "height": 146, "data": {"name": "cw"},
   "encoding": {
    "x": {"field": "x", "type": "quantitative", "scale": {"domain": [1, 20]}, "axis": {"title": "Radius in Pixels", "values": [5, 10, 15, 20], "labelFontSize": 9, "titleFontSize": 8.5}},
    "y": {"field": "y", "type": "quantitative", "scale": {"domain": [0, 100]}, "axis": {"title": "Percent of Accurate Examples", "values": [20, 40, 60, 80, 100], "labelFontSize": 9, "titleFontSize": 8.5, "titlePadding": 1}}},
   "layer": [
    {"transform": [{"filter": {"field": "s", "oneOf": ["casc", "s13"]}}], "mark": {"type": "line", "strokeDash": [4, 3], "strokeWidth": 1.8, "interpolate": "monotone"}, "encoding": {"color": {"field": "s", "type": "nominal", "scale": {"domain": ["casc", "s13"], "range": ["#8080ff", "#0000ff"]}}}},
    {"transform": [{"filter": {"field": "s", "oneOf": ["yang", "eich"]}}], "mark": {"type": "line", "color": {"expr": "(datum.s || datum.value) == 'yang' ? '#00b400' : '#ff5050'"}, "strokeDash": [4, 3], "strokeWidth": 1.8, "interpolate": "monotone"}, "encoding": {"opacity": {"field": "s", "type": "nominal", "scale": {"domain": ["yang", "eich"], "range": [1, 1]}}}},
    {"transform": [{"filter": {"field": "s", "equal": "s10"}}], "mark": {"type": "line", "color": "#ff00ff", "strokeDash": [4, 3], "interpolate": "monotone"}, "encoding": {"strokeWidth": {"field": "s", "type": "ordinal", "scale": {"domain": ["s10"], "range": [2, 2]}}}},
    {"transform": [{"filter": {"field": "s", "oneOf": ["found", "pred"]}}], "mark": {"type": "line", "strokeWidth": 2.2}, "encoding": {"stroke": {"field": "s", "type": "nominal", "scale": {"domain": ["pred", "found"], "range": ["#000000", "#ff0000"]}}}},
    {"transform": [{"filter": {"field": "s", "equal": "gt"}}], "mark": {"type": "line", "color": "#0000ff", "strokeWidth": 2.2}, "encoding": {"strokeDash": {"field": "s", "type": "nominal", "scale": {"domain": ["gt"], "range": [[1, 0]]}}}}
   ]}
 ]}
], "spacing": 39}
],
"spacing": 68,
"center": true
}
